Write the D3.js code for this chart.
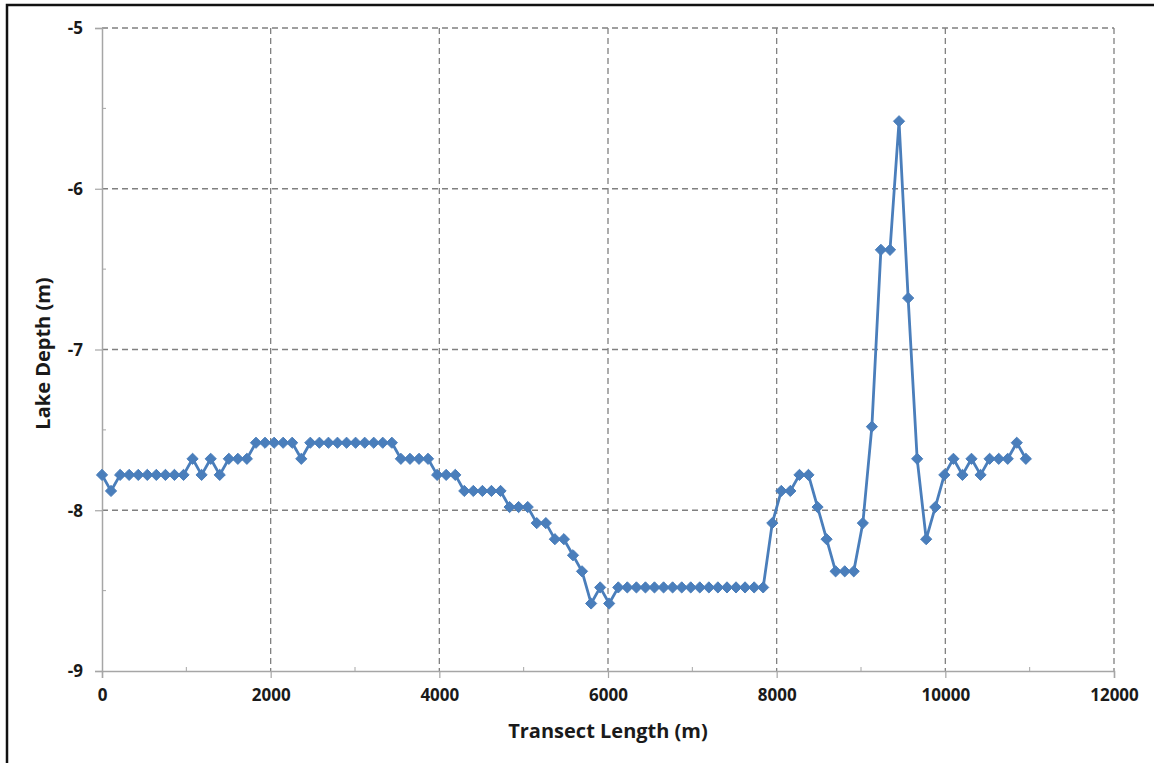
<!DOCTYPE html>
<meta charset="utf-8">
<style>
  body { margin: 0; background: #fff; }
  .tick text { font-family: "Open Sans", sans-serif; font-weight: bold; font-size: 17px; fill: #1a1a1a; }
  .axis-title { font-family: "Open Sans", sans-serif; font-weight: bold; font-size: 20px; fill: #1a1a1a; }
</style>
<body>
<div class="chart"></div>
<script src="https://d3js.org/d3.v7.min.js"></script>
<script>

// transect position (m)
var transect = [0, 107, 215, 322, 430, 537, 644, 752, 859, 967,
  1074, 1181, 1289, 1396, 1504, 1611, 1718, 1826, 1933, 2041,
  2148, 2255, 2363, 2470, 2578, 2685, 2792, 2900, 3007, 3115,
  3222, 3329, 3437, 3544, 3652, 3759, 3866, 3974, 4081, 4189,
  4296, 4403, 4511, 4618, 4726, 4833, 4940, 5048, 5155, 5263,
  5370, 5477, 5585, 5692, 5800, 5907, 6014, 6122, 6229, 6337,
  6444, 6551, 6659, 6766, 6874, 6981, 7088, 7196, 7303, 7411,
  7518, 7625, 7733, 7840, 7948, 8055, 8162, 8270, 8377, 8485,
  8592, 8699, 8807, 8914, 9022, 9129, 9236, 9344, 9451, 9559,
  9666, 9773, 9881, 9988, 10096, 10203, 10310, 10418, 10525, 10633,
  10740, 10847, 10955];

// lake depth (m)
var depth = [-7.78, -7.88, -7.78, -7.78, -7.78, -7.78, -7.78, -7.78, -7.78, -7.78,
  -7.68, -7.78, -7.68, -7.78, -7.68, -7.68, -7.68, -7.58, -7.58, -7.58,
  -7.58, -7.58, -7.68, -7.58, -7.58, -7.58, -7.58, -7.58, -7.58, -7.58,
  -7.58, -7.58, -7.58, -7.68, -7.68, -7.68, -7.68, -7.78, -7.78, -7.78,
  -7.88, -7.88, -7.88, -7.88, -7.88, -7.98, -7.98, -7.98, -8.08, -8.08,
  -8.18, -8.18, -8.28, -8.38, -8.58, -8.48, -8.58, -8.48, -8.48, -8.48,
  -8.48, -8.48, -8.48, -8.48, -8.48, -8.48, -8.48, -8.48, -8.48, -8.48,
  -8.48, -8.48, -8.48, -8.48, -8.08, -7.88, -7.88, -7.78, -7.78, -7.98,
  -8.18, -8.38, -8.38, -8.38, -8.08, -7.48, -6.38, -6.38, -5.58, -6.68,
  -7.68, -8.18, -7.98, -7.78, -7.68, -7.78, -7.68, -7.78, -7.68, -7.68,
  -7.68, -7.58, -7.68];

var xTicks = [0, 2000, 4000, 6000, 8000, 10000, 12000];
var yTicks = [-9, -8, -7, -6, -5];

var data = transect.map(function(d, i) { return {x: d, y: depth[i]}; });

var W = 1154, H = 763;
var margin = {top: 28, right: 40, bottom: 92, left: 102},
    width = W - margin.left - margin.right,
    height = H - margin.top - margin.bottom;

var x = d3.scaleLinear().domain([0, 12000]).range([0, width]);
var y = d3.scaleLinear().domain([-9, -5]).range([height, 0]);

var root = d3.select(".chart").append("svg")
    .attr("width", W)
    .attr("height", H);

// outer frame (only top and left edges visible)
root.append("path")
    .attr("d", "M7,763V5H1154")
    .style("fill", "none")
    .style("stroke", "#111")
    .style("stroke-width", 2.5);

var svg = root.append("g")
    .attr("transform", "translate(" + margin.left + "," + margin.top + ")");

// gridlines
svg.append("g")
    .selectAll("line")
    .data(yTicks.slice(1))
  .enter().append("line")
    .attr("x1", 0).attr("x2", width)
    .attr("y1", function(d) { return y(d); })
    .attr("y2", function(d) { return y(d); })
    .style("stroke", "#808080")
    .style("stroke-width", 1.3)
    .style("stroke-dasharray", "6,4");

svg.append("g")
    .selectAll("line")
    .data(xTicks.slice(1))
  .enter().append("line")
    .attr("y1", 0).attr("y2", height)
    .attr("x1", function(d) { return x(d); })
    .attr("x2", function(d) { return x(d); })
    .style("stroke", "#808080")
    .style("stroke-width", 1.3)
    .style("stroke-dasharray", "6,4");

// minor ticks (inside)
svg.append("g")
    .selectAll("line")
    .data(d3.range(1000, 12000, 2000))
  .enter().append("line")
    .attr("x1", function(d) { return x(d); })
    .attr("x2", function(d) { return x(d); })
    .attr("y1", height).attr("y2", height - 4)
    .style("stroke", "#a6a6a6");

svg.append("g")
    .selectAll("line")
    .data([-8.5, -7.5, -6.5, -5.5])
  .enter().append("line")
    .attr("y1", function(d) { return y(d); })
    .attr("y2", function(d) { return y(d); })
    .attr("x1", 0).attr("x2", 4)
    .style("stroke", "#a6a6a6");

// x axis
var xAxis = svg.append("g")
    .attr("transform", "translate(0," + height + ")")
    .call(d3.axisBottom(x).tickValues(xTicks).tickFormat(function(d) { return String(d); }).tickSize(7).tickPadding(11));

// y axis (plain hyphen for the minus sign, as in the original)
var yAxis = svg.append("g")
    .call(d3.axisLeft(y).tickValues(yTicks).tickFormat(function(d) { return String(d); }).tickSize(7).tickPadding(12));

[xAxis, yAxis].forEach(function(a) {
  a.select(".domain").style("stroke", "#a6a6a6").style("stroke-width", 1.5);
  a.selectAll(".tick line").style("stroke", "#a6a6a6").style("stroke-width", 1.2);
});
yAxis.selectAll(".tick text").attr("dy", "0.35em");

// data line
var valueline = d3.line()
    .x(function(d) { return x(d.x); })
    .y(function(d) { return y(d.y); });

svg.append("path")
    .data([data])
    .style("fill", "none")
    .style("stroke", "#4a7ebb")
    .style("stroke-width", "2.8px")
    .style("stroke-linejoin", "round")
    .attr("d", valueline);

// diamond markers
var diamond = d3.symbol().type(d3.symbolDiamond2).size(80);
svg.selectAll(".dot")
    .data(data)
  .enter().append("path")
    .attr("class", "dot")
    .attr("d", diamond)
    .attr("transform", function(d) { return "translate(" + x(d.x) + "," + y(d.y) + ")"; })
    .style("fill", "#4a7ebb")
    .style("stroke", "#4a7ebb")
    .style("stroke-width", 1);

// axis titles
svg.append("text")
    .attr("class", "axis-title")
    .attr("x", width / 2)
    .attr("y", height + 67)
    .style("text-anchor", "middle")
    .text("Transect Length (m)");

svg.append("text")
    .attr("class", "axis-title")
    .attr("transform", "rotate(-90)")
    .attr("x", -(y(-7) + 4))
    .attr("y", -52)
    .style("text-anchor", "middle")
    .text("Lake Depth (m)");

</script>
</body>
